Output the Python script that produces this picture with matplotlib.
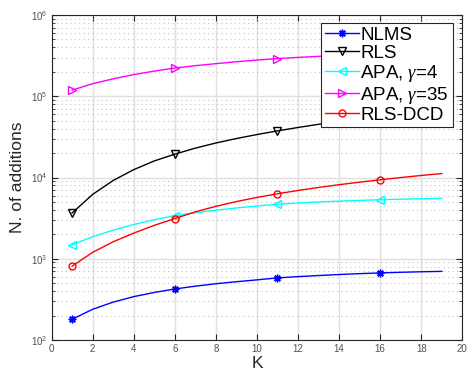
import numpy as np
import matplotlib
matplotlib.use("Agg")
import matplotlib.pyplot as plt
from matplotlib.ticker import LogLocator, NullFormatter, MultipleLocator

plt.rcParams["font.family"] = ["Liberation Sans", "DejaVu Sans"]
plt.rcParams["mathtext.fontset"] = "custom"
plt.rcParams["mathtext.rm"] = "Liberation Sans"
plt.rcParams["mathtext.it"] = "Liberation Serif:italic"

# K = 1..19 (log scale)
K = list(range(1, 20))
nlms = [180, 239, 293, 342, 385, 425, 460, 493, 522, 550, 582, 603, 622,
        640, 656, 670, 682, 692, 700]
rls = [3660, 6200, 9200, 12500, 16000, 19400, 23000, 26600, 30200, 33800,
       37500, 41300, 45200, 49100, 53000, 57000, 61000, 65100, 69200]
apa4 = [1490, 1870, 2250, 2640, 3020, 3390, 3690, 3960, 4220, 4460, 4700,
        4860, 5000, 5120, 5230, 5330, 5410, 5480, 5540]
apa35 = [119000, 143000, 164000, 185000, 204000, 223000, 238000, 252000,
         266000, 279000, 291000, 301000, 310000, 318000, 327000, 335000,
         342000, 348000, 354000]
rls_dcd = [811, 1200, 1620, 2070, 2580, 3130, 3780, 4420, 5060, 5690, 6310,
           6930, 7550, 8160, 8770, 9380, 9990, 10600, 11200]

series = [
    ("NLMS", nlms, "#0000ff", (8, 2, 0)),
    ("RLS", rls, "#000000", "v"),
    (r"APA, $\gamma$=4", apa4, "#00ffff", "<"),
    (r"APA, $\gamma$=35", apa35, "#ff00ff", ">"),
    ("RLS-DCD", rls_dcd, "#ff0000", "o"),
]

fig = plt.figure(figsize=(4.69, 3.70), dpi=100)
ax = fig.add_axes([0.110, 0.081, 0.8757, 0.8784])

for label, vals, color, marker in series:
    ax.plot(K, vals, color=color, lw=1.0, marker=marker, markevery=5,
            markersize=5.5 if marker != "o" else 5, markerfacecolor="none",
            markeredgecolor=color, markeredgewidth=1.0, label=label)

ax.set_yscale("log")
ax.set_xlim(0, 20)
ax.set_ylim(1e2, 1e6)
ax.xaxis.set_major_locator(MultipleLocator(2))
ax.yaxis.set_major_locator(LogLocator(base=10, numticks=10))
ax.yaxis.set_minor_locator(LogLocator(base=10, subs=np.arange(2, 10), numticks=20))
ax.yaxis.set_minor_formatter(NullFormatter())

ax.grid(True, which="major", color="#e0e0e0", lw=1.0, ls="-")
ax.grid(True, which="minor", axis="y", color="#c4c4c4", lw=0.8, ls=(0, (1, 3)))
ax.set_axisbelow(True)

ax.tick_params(which="both", direction="in", top=True, right=True,
               labelsize=7, labelcolor="#505050", color="#262626")
ax.tick_params(which="major", length=4, pad=3)
ax.tick_params(which="minor", length=2)
for sp in ax.spines.values():
    sp.set_color("#262626")
    sp.set_linewidth(0.8)

ax.set_xlabel("K", fontsize=12.5, color="#262626", labelpad=1)
ax.set_ylabel("N. of additions", fontsize=12.5, color="#262626", labelpad=4)

leg = ax.legend(loc="upper right", bbox_to_anchor=(0.9765, 0.976), fontsize=13.5,
                frameon=True, fancybox=False, edgecolor="#262626",
                handlelength=1.8, handletextpad=0.1, labelspacing=0.05,
                borderpad=0.2, borderaxespad=0)
leg.get_frame().set_linewidth(0.8)
leg.get_frame().set_alpha(1.0)

fig.savefig("out.png", dpi=100)
